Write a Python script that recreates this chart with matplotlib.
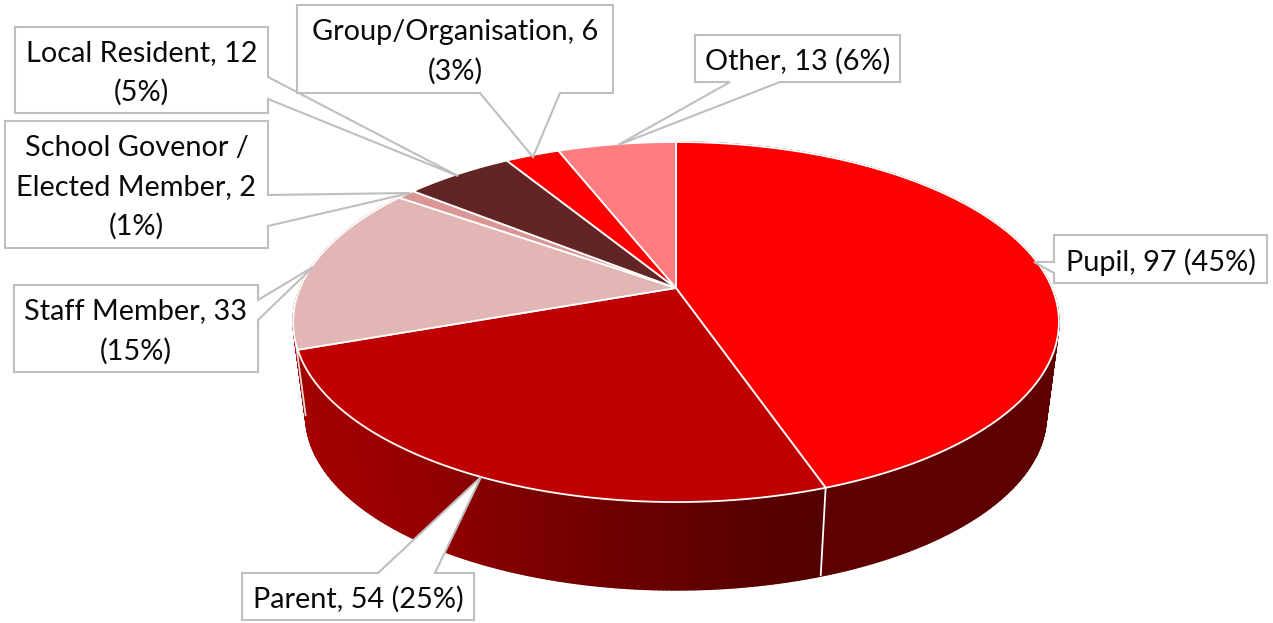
import numpy as np
import matplotlib
matplotlib.use('Agg')
import matplotlib.pyplot as plt
from matplotlib.collections import PolyCollection
from matplotlib.patches import Polygon

## data
categories = ['Pupil', 'Parent', 'Staff Member', 'School Govenor /\nElected Member',
              'Local Resident', 'Group/Organisation', 'Other']
counts = [97, 54, 33, 2, 12, 6, 13]
percents = [45, 25, 15, 1, 5, 3, 6]

## style
top_colors = ['#FF0000', '#C00000', '#E3B6B6', '#D99694', '#632523', '#FF0000', '#FF7C80']
wall_stops = {
    'Pupil': ([825, 1060], ['#5E0000', '#5E0000']),
    'Parent': ([300, 416, 480, 600, 760, 825], ['#A40000', '#960000', '#860000', '#700000', '#580000', '#520000']),
}
seps = [' ', ' ', '\n', '\n', '\n', '\n', ' ']
# box (x0, y0, x1, y1), side of the box the leader leaves from, base a, base b, tip
callouts = [
    ((1054, 235, 1267, 283), 'left', 262, 273, (1034, 262)),
    ((242, 573, 474, 620), 'top', 378, 435, (481, 477)),
    ((14, 285, 258, 372), 'right', 300, 320, (313, 267)),
    ((5, 121, 268, 248), 'right', 195, 226, (410, 193)),
    ((15, 27, 268, 113), 'right', 77, 99, (458, 176)),
    ((297, 5, 613, 93), 'bottom', 480, 560, (533, 157)),
    ((695, 35, 900, 82), 'bottom', 730, 780, (618, 145)),
]

CX, Y_TOP, Y_BOT = 676, 288, 383
A, B, K = 376, 173.6, 0.189
BOT_SCALE = 0.967
GREY = '#BFBFBF'
PALE = '#E9DADA'


def project(theta, bottom=False):
    # theta clockwise from the top of the pie, perspective squeezes the far side
    u, v = np.sin(theta), np.cos(theta)
    w = 1 + K * v
    s = BOT_SCALE if bottom else 1.0
    y0 = Y_BOT if bottom else Y_TOP
    return CX + s * A * u / w, y0 - s * B * v / w


def hex_rgb(c):
    return [int(c[i:i + 2], 16) / 255 for i in (1, 3, 5)]


def wall_color(x, name):
    # the sliver of wall left of the parent slice reads as the same red in the original
    xs, cols = wall_stops.get(name, wall_stops['Parent'])
    rgb = np.array([hex_rgb(c) for c in cols])
    return tuple(np.interp(x, xs, rgb[:, i]) for i in range(3))


def callout_poly(box, side, a, b, tip):
    x0, y0, x1, y1 = box
    if side == 'left':
        return [(x0, y0), (x1, y0), (x1, y1), (x0, y1), (x0, b), tip, (x0, a)]
    if side == 'right':
        return [(x0, y0), (x1, y0), (x1, a), tip, (x1, b), (x1, y1), (x0, y1)]
    if side == 'top':
        return [(x0, y0), (a, y0), tip, (b, y0), (x1, y0), (x1, y1), (x0, y1)]
    return [(x0, y0), (x1, y0), (x1, y1), (b, y1), tip, (a, y1), (x0, y1)]


fig = plt.figure(figsize=(12.73, 6.23), dpi=100)
ax = fig.add_axes([0, 0, 1, 1])
ax.set_xlim(0, 1273)
ax.set_ylim(623, 0)
ax.axis('off')

edges = np.cumsum([0] + counts) / sum(counts) * 2 * np.pi

## walls first, the top faces cover whatever is at the back
for i, name in enumerate(categories[:3]):
    thetas = np.linspace(edges[i], edges[i + 1], max(3, int(np.degrees(edges[i + 1] - edges[i])) * 2))
    xt, yt = project(thetas)
    xb, yb = project(thetas, bottom=True)
    quads, cols = [], []
    for j in range(len(thetas) - 1):
        quads.append([(xt[j], yt[j]), (xt[j + 1], yt[j + 1]), (xb[j + 1], yb[j + 1]), (xb[j], yb[j])])
        cols.append(wall_color((xt[j] + xt[j + 1]) / 2, name))
    ax.add_collection(PolyCollection(quads, facecolors=cols, edgecolors=cols, linewidths=1.0, zorder=2))

# white seam between pupil and parent walls
xt, yt = project(edges[1])
xb, yb = project(edges[1], bottom=True)
ax.plot([xt, xb], [yt, yb], color='white', lw=1.3, zorder=3, solid_capstyle='butt')

# pale rim down the left silhouette of the wall
left = np.linspace(edges[2], edges[3], 200)
th = left[np.argmin(project(left, bottom=True)[0])]
xt, yt = project(th)
xb, yb = project(th, bottom=True)
ax.plot([xt, xb], [yt, yb], color=PALE, lw=1.3, zorder=3, solid_capstyle='butt')

## top faces
for i, name in enumerate(categories):
    thetas = np.linspace(edges[i], edges[i + 1], 200)
    xt, yt = project(thetas)
    pts = [(CX, Y_TOP)] + list(zip(xt, yt))
    ax.add_patch(Polygon(pts, closed=True, facecolor=top_colors[i], edgecolor='white',
                         lw=1.3, joinstyle='round', zorder=4))

## labels
for name, n, pct, sep, (box, side, a, b, tip) in zip(categories, counts, percents, seps, callouts):
    ax.add_patch(Polygon(callout_poly(box, side, a, b, tip), closed=True, facecolor='white',
                         edgecolor=GREY, lw=1.5, joinstyle='miter', zorder=5))
    ax.text((box[0] + box[2]) / 2, (box[1] + box[3]) / 2 + 3, f'{name}, {n}{sep}({pct}%)',
            ha='center', va='center', family='Lato', fontsize=20.8, color='#0A0A0A',
            linespacing=1.6, zorder=6)

fig.savefig('out.png', dpi=100, facecolor='white')
